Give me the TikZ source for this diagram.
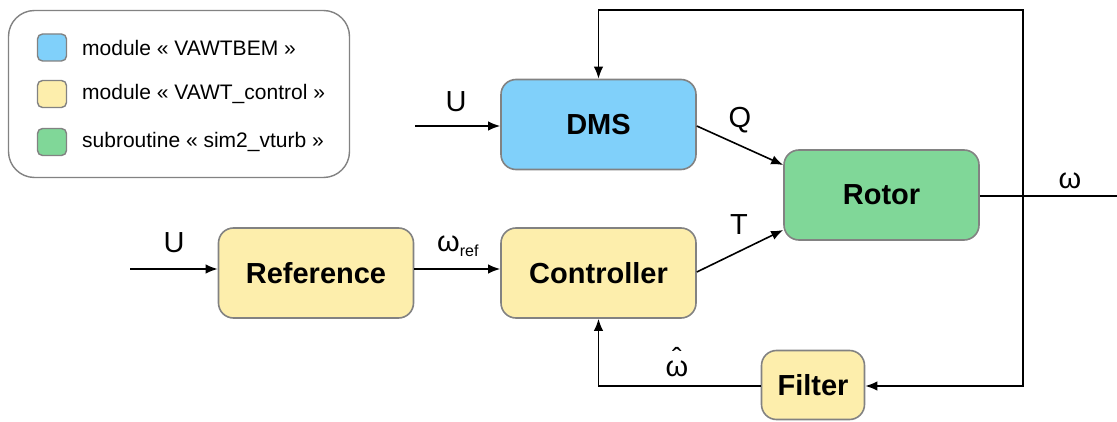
\documentclass[tikz,border=0pt]{standalone}
\usepackage{fontspec}
\setmainfont{Liberation Sans}
\usetikzlibrary{arrows.meta}
\definecolor{bemblue}{RGB}{128,208,250}
\definecolor{ctrlyellow}{RGB}{253,238,172}
\definecolor{simgreen}{RGB}{128,215,152}
\definecolor{edgegray}{RGB}{130,130,130}
% omega with a circumflex set above it
\newcommand\omegahat{\setbox0\hbox{ω}\hbox{\copy0\kern-\wd0\hbox to\wd0{\hss\raisebox{0.3em}{ˆ}\hss}}}
\tikzset{
  block/.style={draw=edgegray, line width=1.6pt, rounded corners=15pt,
    minimum width=195pt, minimum height=90pt, inner sep=0pt,
    font=\fontsize{29}{34}\selectfont\bfseries},
  swatch/.style={draw=edgegray, line width=1.4pt, rounded corners=5pt,
    minimum width=29pt, minimum height=27pt, inner sep=0pt},
  legendtext/.style={anchor=west, inner sep=0pt, font=\fontsize{21}{24}\selectfont},
  sig/.style={line width=1.6pt, -{Latex[length=12pt,width=9.5pt]}},
  wire/.style={line width=1.6pt},
  siglabel/.style={inner sep=0pt, font=\fontsize{29}{34}\selectfont}
}
\begin{document}
\begin{tikzpicture}[x=1pt,y=-1pt]
\useasboundingbox (0,0) rectangle (1117,422);

% legend
\node[draw=edgegray, line width=1.4pt, rounded corners=26pt,
  minimum width=341pt, minimum height=167pt, inner sep=0pt] (legend) at (179,94) {};
\node[swatch, fill=bemblue] (sw1) at (52,47.5) {};
\node[swatch, fill=ctrlyellow] (sw2) at (52,94) {};
\node[swatch, fill=simgreen] (sw3) at (52,142) {};
\node[legendtext] (lt1) at (82,47.5) {module «~VAWTBEM~»};
\node[legendtext] (lt2) at (82,94) {module «~VAWT\_control~»};
\node[legendtext] (lt3) at (82,142) {subroutine «~sim2\_vturb~»};

% blocks
\node[block, fill=bemblue] (dms) at (598.5,124.5) {DMS};
\node[block, fill=simgreen] (rotor) at (881.5,195) {Rotor};
\node[block, fill=ctrlyellow] (ref) at (316,273) {Reference};
\node[block, fill=ctrlyellow] (ctrl) at (598.5,273) {Controller};
\node[block, fill=ctrlyellow, minimum width=103pt, minimum height=69pt] (filt) at (813,385) {Filter};

% free ends and corners of the wiring
\coordinate (u1) at (415,126);
\coordinate (u2) at (130,269);
\coordinate (out) at (1117,196);
\coordinate (topr) at (1023,10);
\coordinate (botr) at (1023,386);

% signals
\draw[sig] (u1) -- (u1 -| dms.west);
\draw[sig] (u2) -- (u2 -| ref.west);
\draw[sig] (ref.east |- u2) -- (ctrl.west |- u2);
\draw[sig] ([yshift=-1.5pt]dms.east) -- ([yshift=30pt]rotor.west);
\draw[sig] ([yshift=1pt]ctrl.east) -- ([yshift=-35pt]rotor.west);
\draw[wire] (rotor.east |- out) -- (out);
\draw[sig] (botr) -- (topr) -| (dms.north);
\draw[sig] (topr) -- (botr) -- (botr -| filt.east);
\draw[sig] (filt.west |- botr) -| (ctrl.south);

% signal labels
\node[siglabel] (lu1) at (456,102) {U};
\node[siglabel] (lu2) at (174,243) {U};
\node[siglabel, anchor=west] (lwr) at (437,246) {ω\raisebox{-0.35ex}{\fontsize{16}{16}\selectfont ref}};
\node[siglabel] (lq) at (740,120) {Q};
\node[siglabel] (lt) at (739,225) {T};
\node[siglabel] (lw) at (1070,181) {ω};
\node[siglabel] (lwh) at (677,362) {\omegahat};
\end{tikzpicture}
\end{document}
